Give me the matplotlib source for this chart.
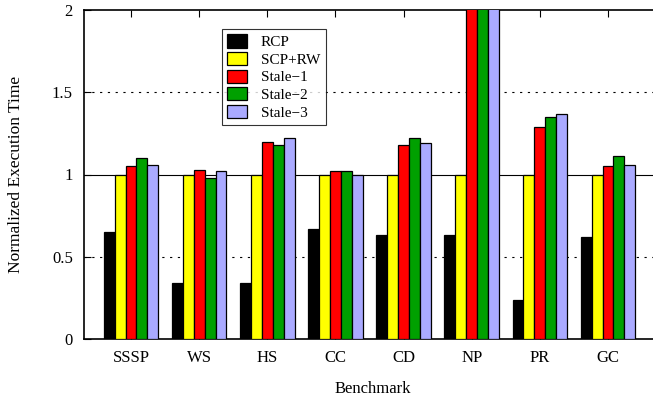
import matplotlib
matplotlib.use("Agg")
import matplotlib.pyplot as plt
import numpy as np

benchmarks = ["SSSP", "WS", "HS", "CC", "CD", "NP", "PR", "GC"]
series_names = ["RCP", "SCP+RW", "Stale\u22121", "Stale\u22122", "Stale\u22123"]
rcp    = [0.65, 0.34, 0.34, 0.67, 0.63, 0.63, 0.24, 0.62]
scp_rw = [1.00, 1.00, 1.00, 1.00, 1.00, 1.00, 1.00, 1.00]
stale1 = [1.05, 1.03, 1.20, 1.02, 1.18, 2.60, 1.29, 1.05]
stale2 = [1.10, 0.98, 1.18, 1.02, 1.22, 2.70, 1.35, 1.11]
stale3 = [1.06, 1.02, 1.22, 1.00, 1.19, 2.80, 1.37, 1.06]
colors = ["#000000", "#FFFF00", "#FF0000", "#00A000", "#AAAAFF"]
yticks = [0, 0.5, 1, 1.5, 2]

plt.rcParams['font.family'] = ['Liberation Serif', 'DejaVu Serif']

W, H = 653, 400
left_px, right_px, top_px, bot_px = 84, 662, 10, 339
fig = plt.figure(figsize=(W / 100, H / 100), dpi=100)
ax = fig.add_axes([left_px / W, 1 - bot_px / H, (right_px - left_px) / W, (bot_px - top_px) / H])

x = np.arange(len(benchmarks))
w = 0.16
data = [rcp, scp_rw, stale1, stale2, stale3]
for i, (vals, c, name) in enumerate(zip(data, colors, series_names)):
    ax.bar(x + (i - 2) * w, vals, w, color=c, edgecolor="black", linewidth=0.9,
           label=name, zorder=3)

ax.set_ylim(0, 2)
ax.set_xlim(-0.69, 7.0 + (right_px - 608) / 68.1)
ax.set_yticks(yticks)
ax.set_yticklabels(["0", "0.5", "1", "1.5", "2"])
ax.set_xticks(x)
ax.set_xticklabels(benchmarks)
ax.tick_params(axis='both', direction='in', labelsize=12, top=True, length=5, width=0.8, pad=8)

for yv in [0.5, 1.5]:
    ax.axhline(yv, color="black", linewidth=0.8, linestyle=(0, (2, 5)), zorder=1)
ax.axhline(1.0, color="black", linewidth=0.8, zorder=1)

for s in ax.spines.values():
    s.set_linewidth(1.2)

ax.set_ylabel("Normalized Execution Time", fontsize=12.5, labelpad=20)
ax.set_xlabel("Benchmark", fontsize=12, labelpad=11)

leg = ax.legend(loc="upper left",
                bbox_to_anchor=((222 - left_px) / (right_px - left_px), 1 - (29 - top_px) / (bot_px - top_px)),
                fontsize=11, frameon=True, fancybox=False, edgecolor="black",
                handlelength=1.3, handleheight=0.95, handletextpad=0.9,
                labelspacing=0.18, borderpad=0.35, borderaxespad=0)
leg.get_frame().set_linewidth(0.8)

fig.savefig("out.png", dpi=100)
